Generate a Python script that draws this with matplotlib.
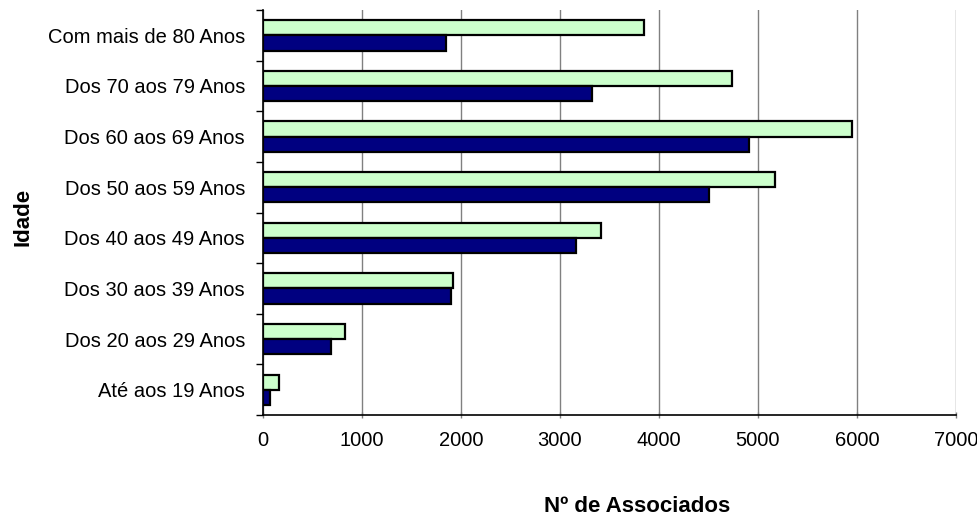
import matplotlib.pyplot as plt
import numpy as np

plt.rcParams['font.family'] = ['Liberation Sans', 'DejaVu Sans']

categorias = ['Até aos 19 Anos', 'Dos 20 aos 29 Anos', 'Dos 30 aos 39 Anos',
              'Dos 40 aos 49 Anos', 'Dos 50 aos 59 Anos', 'Dos 60 aos 69 Anos',
              'Dos 70 aos 79 Anos', 'Com mais de 80 Anos']
serie_verde = [160, 825, 1920, 3410, 5170, 5945, 4740, 3850]
serie_azul = [75, 685, 1900, 3160, 4505, 4905, 3325, 1845]
xticks = [0, 1000, 2000, 3000, 4000, 5000, 6000, 7000]

fig = plt.figure(figsize=(9.78, 5.19), dpi=100)
ax = fig.add_axes([263 / 978, 1 - 415 / 519, (956 - 263) / 978, (415 - 10) / 519])

y = np.arange(len(categorias))
h = 0.3
ax.barh(y + h / 2, serie_verde, height=h, color='#CCFFCC', edgecolor='black',
        linewidth=1.6, zorder=3)
ax.barh(y - h / 2, serie_azul, height=h, color='#000080', edgecolor='black',
        linewidth=1.6, zorder=3)

ax.set_xlim(0, 7000)
ax.set_ylim(-0.5, len(categorias) - 0.5)
ax.set_xticks(xticks)
ax.set_xticklabels([str(t) for t in xticks], fontsize=14.5)
ax.set_yticks(y)
ax.set_yticklabels(categorias, fontsize=14.5)
ax.set_yticks(np.arange(-0.5, len(categorias)), minor=True)
ax.tick_params(axis='y', which='major', length=0, pad=13)
ax.tick_params(axis='y', which='minor', length=5, color='black', width=1)
ax.tick_params(axis='x', length=5, direction='inout', pad=9, width=1, color='#808080')

ax.grid(axis='x', color='#808080', linewidth=1, zorder=0)
for s in ['top', 'right']:
    ax.spines[s].set_visible(False)
for s in ['left', 'bottom']:
    ax.spines[s].set_color('black')
    ax.spines[s].set_linewidth(1.2)

fig.text(23 / 978, 1 - 217 / 519, 'Idade', rotation=90, fontsize=16,
         fontweight='bold', ha='center', va='center')
fig.text(637 / 978, 1 - 507 / 519, 'Nº de Associados', fontsize=16,
         fontweight='bold', ha='center', va='center')

fig.savefig('out.png', dpi=100)
